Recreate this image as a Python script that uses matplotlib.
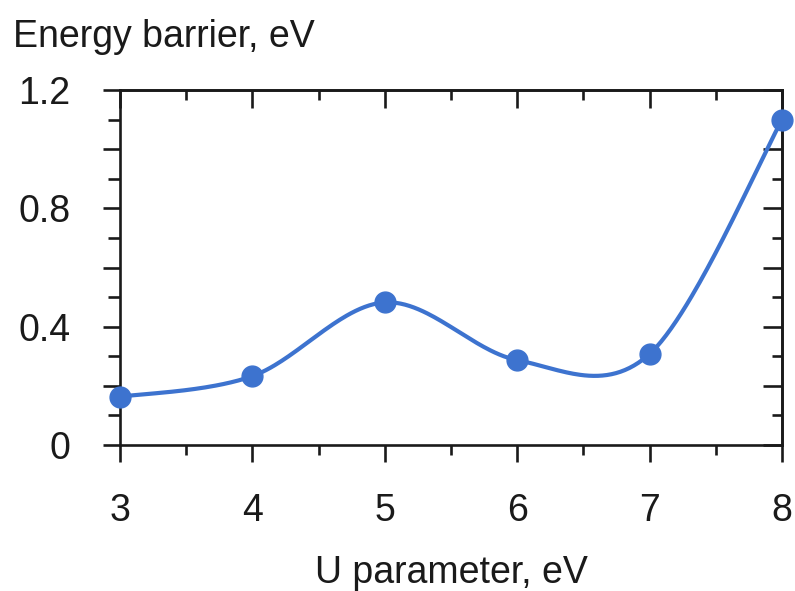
import numpy as np
import matplotlib
matplotlib.use('Agg')
import matplotlib.pyplot as plt
from matplotlib.ticker import MultipleLocator

# values
u_param = [3, 4, 5, 6, 7, 8]
barrier = [0.163, 0.233, 0.482, 0.287, 0.308, 1.099]
yticks = [0, 0.2, 0.4, 0.6, 0.8, 1.0, 1.2]
ytick_labels = ['0', '', '0.4', '', '0.8', '', '1.2']
xticks = [3, 4, 5, 6, 7, 8]


def smooth_line(x, y, n=60):
    # spreadsheet-style smoothed line (Catmull-Rom as Bezier segments)
    p = np.column_stack([x, y]).astype(float)
    ext = np.vstack([p[0], p, p[-1]])
    t = np.linspace(0, 1, n)[:, None]
    out = []
    for i in range(len(p) - 1):
        p0, p1 = ext[i + 1], ext[i + 2]
        b1 = p0 + (ext[i + 2] - ext[i]) / 6
        b2 = p1 - (ext[i + 3] - ext[i + 1]) / 6
        seg = ((1 - t) ** 3 * p0 + 3 * (1 - t) ** 2 * t * b1
               + 3 * (1 - t) * t ** 2 * b2 + t ** 3 * p1)
        out.append(seg if i == 0 else seg[1:])
    out = np.vstack(out)
    return out[:, 0], out[:, 1]


plt.rcParams['font.family'] = ['Liberation Sans', 'DejaVu Sans']
blue = '#3d73cf'
ink = '#1a1a1a'
fs = 27

fig = plt.figure(figsize=(7.95, 5.91), dpi=100)
ax = fig.add_axes([0.151, 0.247, 0.8327, 0.6007])

xs, ys = smooth_line(u_param, barrier)
ax.plot(xs, ys, color=blue, lw=3, zorder=3, clip_on=False)
ax.plot(u_param, barrier, 'o', color=blue, ms=15, zorder=4, clip_on=False)

ax.set_xlim(3, 8)
ax.set_ylim(0, 1.2)
ax.set_xticks(xticks)
ax.set_yticks(yticks)
ax.set_yticklabels(ytick_labels)
ax.xaxis.set_minor_locator(MultipleLocator(0.5))
ax.yaxis.set_minor_locator(MultipleLocator(0.1))

for sp in ax.spines.values():
    sp.set_linewidth(1.9)
    sp.set_color(ink)

ax.tick_params(which='major', direction='out', length=12.5, width=1.9,
               color=ink, labelsize=fs, labelcolor=ink)
ax.tick_params(which='minor', direction='out', length=7, width=1.9, color=ink)
ax.tick_params(axis='x', which='major', pad=22)
ax.tick_params(axis='y', which='major', pad=23)
ax.tick_params(axis='y', which='minor', length=8.5)

top = ax.secondary_xaxis('top')
top.set_xticks(xticks)
top.xaxis.set_minor_locator(MultipleLocator(0.5))
top.tick_params(which='major', direction='in', length=13, width=1.9,
                color=ink, labeltop=False)
top.tick_params(which='minor', direction='in', length=7, width=1.9, color=ink)
top.spines['top'].set_linewidth(1.9)
top.spines['top'].set_color(ink)

right = ax.secondary_yaxis('right')
right.set_yticks(yticks)
right.yaxis.set_minor_locator(MultipleLocator(0.1))
right.tick_params(which='major', direction='in', length=14, width=1.9,
                  color=ink, labelright=False)
right.tick_params(which='minor', direction='in', length=7, width=1.9, color=ink)
right.spines['right'].set_linewidth(1.9)
right.spines['right'].set_color(ink)

ax.set_xlabel('U parameter, eV', fontsize=fs, color=ink, labelpad=19)
fig.text(0.016, 0.92, 'Energy barrier, eV', fontsize=fs, color=ink,
         ha='left', va='baseline')

fig.savefig('out.png', dpi=100)
